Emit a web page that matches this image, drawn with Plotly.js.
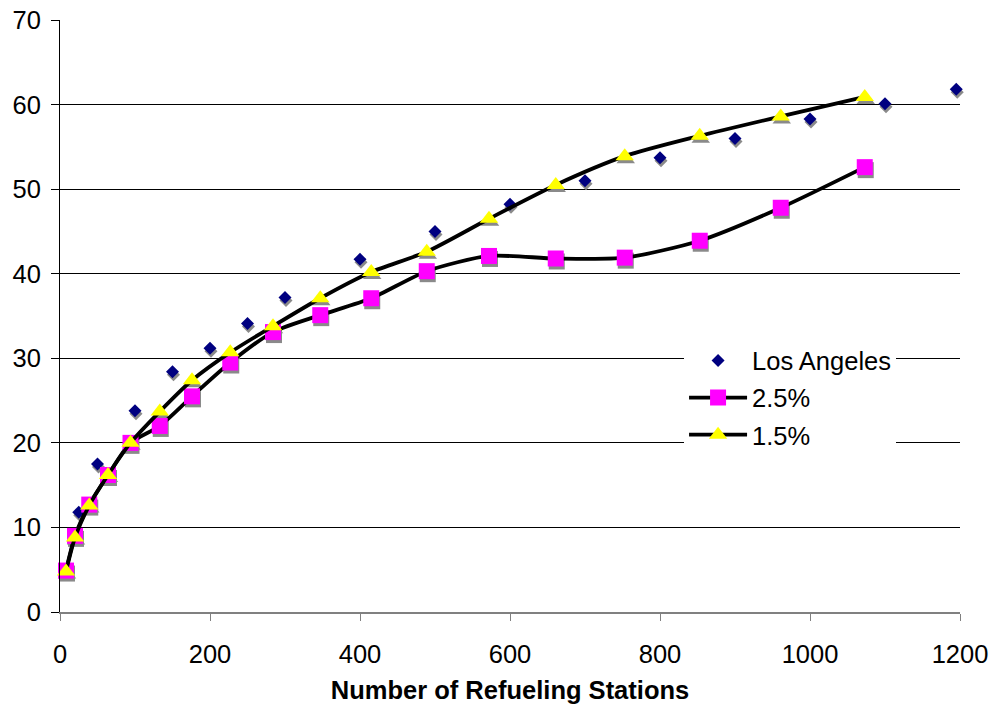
<!DOCTYPE html>
<html>
<head>
<meta charset="utf-8">
<script src="https://cdn.plot.ly/plotly-3.0.1.min.js"></script>
<style>html,body{margin:0;padding:0;background:#fff;}#chart{width:992px;height:708px;}</style>
</head>
<body>
<div id="chart"></div>
<script>
// Los Angeles (observed)
const laX = [25, 50, 100, 150, 200, 250, 300, 400, 500, 600, 700, 800, 900, 1000, 1100, 1195];
const laY = [11.8, 17.5, 23.8, 28.4, 31.2, 34.1, 37.2, 41.7, 45.0, 48.2, 51.0, 53.7, 56.0, 58.3, 60.1, 61.8];
// Model runs
const modelX = [8, 20, 39, 64, 94, 133, 176, 227, 284, 347, 415, 489, 572, 661, 753, 853, 961, 1073];
const y25 = [4.9, 9.0, 12.7, 16.2, 20.0, 22.0, 25.5, 29.5, 33.1, 35.1, 37.1, 40.3, 42.1, 41.8, 41.9, 43.9, 47.8, 52.6];
const y15 = [4.8, 8.8, 12.6, 16.2, 20.0, 23.7, 27.4, 30.7, 33.8, 37.1, 40.2, 42.6, 46.5, 50.5, 53.9, 56.3, 58.6, 60.9];
const seriesNames = ['Los Angeles', '2.5%', '1.5%'];
const xTicks = [0, 200, 400, 600, 800, 1000, 1200];
const yTicks = [0, 10, 20, 30, 40, 50, 60, 70];

const W = 900, H = 592;
const xR = [0, 1200], yR = [0, 70];
// shadow offset in px (right, down)
const sdx = 1, sdy = 3;
const xs = [xR[0] - sdx * (xR[1] - xR[0]) / W, xR[1] - sdx * (xR[1] - xR[0]) / W];
const ys = [yR[0] + sdy * (yR[1] - yR[0]) / H, yR[1] + sdy * (yR[1] - yR[0]) / H];

const shadow = '#8a8a8a';
const traces = [
  {x: [], y: [], xaxis: 'x', yaxis: 'y', mode: 'markers', showlegend: false, hoverinfo: 'skip'},
  {x: laX, y: laY, xaxis: 'x2', yaxis: 'y2', mode: 'markers', showlegend: false, hoverinfo: 'skip', cliponaxis: false,
   marker: {symbol: 'diamond', size: 10, color: shadow}},
  {x: modelX, y: y25, xaxis: 'x2', yaxis: 'y2', mode: 'markers', showlegend: false, hoverinfo: 'skip', cliponaxis: false,
   marker: {symbol: 'square', size: 16, color: shadow}},
  {x: modelX, y: y15, xaxis: 'x2', yaxis: 'y2', mode: 'markers', showlegend: false, hoverinfo: 'skip', cliponaxis: false,
   marker: {symbol: 'triangle-up', size: 16, color: shadow}},
  {x: laX, y: laY, xaxis: 'x3', yaxis: 'y3', name: seriesNames[0], mode: 'markers', cliponaxis: false, legendgroup: 'a',
   marker: {symbol: 'diamond', size: 10, color: '#000080'}},
  {x: modelX, y: y25, xaxis: 'x3', yaxis: 'y3', name: seriesNames[1], mode: 'lines+markers', cliponaxis: false, legendgroup: 'b',
   line: {color: '#000', width: 3.8, shape: 'spline', smoothing: 0.7},
   marker: {symbol: 'square', size: 16, color: '#FF00FF'}},
  {x: modelX, y: y15, xaxis: 'x3', yaxis: 'y3', name: seriesNames[2], mode: 'lines+markers', cliponaxis: false, legendgroup: 'c',
   line: {color: '#000', width: 3.8, shape: 'spline', smoothing: 0.7},
   marker: {symbol: 'triangle-up', size: 16, color: '#FFFF00'}}
];

const font = {family: 'Liberation Sans, Arial, sans-serif', size: 25.5, color: '#000'};
const layout = {
  width: 992, height: 708,
  margin: {l: 60, r: 32, t: 20, b: 96},
  paper_bgcolor: '#fff', plot_bgcolor: '#fff',
  font: font,
  showlegend: true,
  legend: {x: 0.6934, y: 0.464, xanchor: 'left', yanchor: 'top', bgcolor: '#fff', borderwidth: 0,
           font: font, itemwidth: 58, tracegroupgap: 1},
  xaxis: {range: xR, tickvals: xTicks, ticktext: xTicks.map(String), showgrid: false, zeroline: false,
          showline: true, linecolor: '#808080', linewidth: 2, ticks: 'outside', ticklen: 7, tickcolor: '#808080', tickwidth: 1,
          tickfont: font, fixedrange: true, ticklabelstandoff: 11,
          title: {text: '<b>Number of Refueling Stations</b>', font: {family: font.family, size: 25.5, color: '#000'}, standoff: 15}},
  yaxis: {range: yR, tickvals: yTicks, ticktext: yTicks.map(String), showgrid: true, gridcolor: '#000', gridwidth: 1,
          zeroline: false, showline: true, linecolor: '#000', linewidth: 1, ticks: 'outside', ticklen: 8, tickcolor: '#000',
          tickfont: font, fixedrange: true, ticklabelstandoff: 5},
  xaxis2: {range: xs, overlaying: 'x', visible: false, fixedrange: true},
  yaxis2: {range: ys, overlaying: 'y', visible: false, fixedrange: true},
  xaxis3: {range: xR, overlaying: 'x', visible: false, fixedrange: true},
  yaxis3: {range: yR, overlaying: 'y', visible: false, fixedrange: true}
};
Plotly.newPlot('chart', traces, layout, {displayModeBar: false, staticPlot: true});
</script>
</body>
</html>
